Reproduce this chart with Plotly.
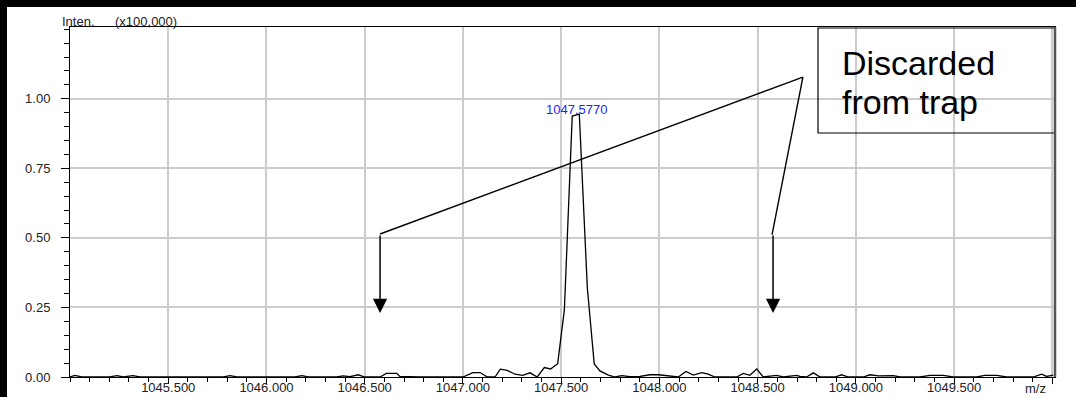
import plotly.graph_objects as go

# ---- data ----
mz = [1045.000, 1045.025, 1045.060, 1045.200, 1045.240, 1045.270, 1045.320, 1045.356,
      1045.780, 1045.814, 1045.850, 1046.145, 1046.180, 1046.213, 1046.357, 1046.390,
      1046.425, 1046.467, 1046.500, 1046.578, 1046.610, 1046.663, 1046.679, 1046.780,
      1047.000, 1047.050, 1047.087, 1047.124, 1047.163, 1047.190, 1047.225, 1047.265,
      1047.304, 1047.341, 1047.378, 1047.414, 1047.446, 1047.482, 1047.516, 1047.556,
      1047.592, 1047.633, 1047.668, 1047.697, 1047.740, 1047.774, 1047.808, 1047.850,
      1047.900, 1047.952, 1047.994, 1048.037, 1048.096, 1048.135, 1048.172, 1048.215,
      1048.248, 1048.282, 1048.393, 1048.427, 1048.460, 1048.495, 1048.528, 1048.596,
      1048.630, 1048.698, 1048.715, 1048.749, 1048.783, 1048.817, 1048.893, 1048.927,
      1048.961, 1049.037, 1049.071, 1049.114, 1049.156, 1049.190, 1049.224, 1049.326,
      1049.377, 1049.444, 1049.495, 1049.614, 1049.656, 1049.716, 1049.767, 1049.902,
      1049.945, 1049.970, 1050.004]
intensity = [0.000, 0.006, 0.000, 0.000, 0.005, 0.000, 0.005, 0.000,
             0.000, 0.005, 0.000, 0.000, 0.005, 0.000, 0.000, 0.004,
             0.001, 0.008, 0.000, 0.000, 0.013, 0.013, 0.002, 0.000,
             0.000, 0.016, 0.016, 0.000, 0.000, 0.028, 0.024, 0.010,
             0.006, 0.015, 0.000, 0.034, 0.029, 0.048, 0.241, 0.938,
             0.945, 0.319, 0.047, 0.022, 0.007, 0.000, 0.005, 0.001,
             0.002, 0.008, 0.008, 0.005, 0.000, 0.020, 0.007, 0.016,
             0.010, 0.000, 0.000, 0.013, 0.006, 0.029, 0.000, 0.006,
             0.000, 0.006, 0.002, 0.000, 0.015, 0.000, 0.000, 0.008,
             0.000, 0.000, 0.008, 0.004, 0.004, 0.005, 0.000, 0.000,
             0.006, 0.006, 0.000, 0.000, 0.006, 0.006, 0.000, 0.000,
             0.010, 0.002, 0.007]

x_tickvals = [1045.5, 1046.0, 1046.5, 1047.0, 1047.5, 1048.0, 1048.5, 1049.0, 1049.5, 1050.0]
x_ticktext = ["1045.500", "1046.000", "1046.500", "1047.000", "1047.500",
              "1048.000", "1048.500", "1049.000", "1049.500", ""]
y_tickvals = [0.0, 0.25, 0.5, 0.75, 1.0]
y_ticktext = ["0.00", "0.25", "0.50", "0.75", "1.00"]

peak_label = "1047.5770"
peak_mz = 1047.577
peak_label_y = 0.962

# callout geometry (data coordinates)
callout_vertex = (1048.730, 1.078)
callout_left = (1046.578, 0.514)
callout_right = (1048.573, 0.512)
arrow_x = [1046.578, 1048.578]
arrow_tail_y = 0.514
arrow_tip_y = 0.23

FONT = "Liberation Sans, Arial, sans-serif"

# pixel geometry helpers
W, H = 1076, 397
ML, MR, MT, MB = 70, 21, 27, 20
PW, PH = W - ML - MR, H - MT - MB


def px(xp):
    return (xp - ML) / PW


def py(yp):
    return (H - MB - yp) / PH


fig = go.Figure()
fig.add_trace(go.Scatter(x=mz, y=intensity, mode="lines",
                         line=dict(color="black", width=1.3),
                         hoverinfo="skip", showlegend=False))

shapes = []
# black frame around the picture (top and left strips)
shapes.append(dict(type="rect", xref="paper", yref="paper", layer="above",
                   x0=px(0), x1=px(W), y0=py(7), y1=py(0),
                   fillcolor="black", line=dict(width=0)))
shapes.append(dict(type="rect", xref="paper", yref="paper", layer="above",
                   x0=px(0), x1=px(7), y0=py(H), y1=py(0),
                   fillcolor="black", line=dict(width=0)))
# callout lines
for corner in (callout_left, callout_right):
    shapes.append(dict(type="line", xref="x", yref="y",
                       x0=corner[0], y0=corner[1],
                       x1=callout_vertex[0], y1=callout_vertex[1],
                       line=dict(color="black", width=1.4)))
# text box
shapes.append(dict(type="rect", xref="paper", yref="paper",
                   x0=px(818), x1=px(1055), y0=py(133), y1=py(28),
                   line=dict(color="black", width=1.2), fillcolor="rgba(0,0,0,0)"))
# darker right border of plot area
shapes.append(dict(type="line", xref="paper", yref="paper",
                   x0=1.0, x1=1.0, y0=0, y1=1,
                   line=dict(color="#555555", width=2.5)))

annotations = []
for ax_x in arrow_x:
    annotations.append(dict(x=ax_x, y=arrow_tip_y, ax=ax_x, ay=arrow_tail_y,
                            xref="x", yref="y", axref="x", ayref="y",
                            showarrow=True, arrowhead=2, arrowsize=1.9,
                            arrowwidth=1.5, arrowcolor="black", text=""))
annotations.append(dict(x=peak_mz, y=peak_label_y, xref="x", yref="y",
                        text=peak_label, showarrow=False,
                        font=dict(family=FONT, size=13, color="#2323ff"),
                        xanchor="center", yanchor="middle"))
annotations.append(dict(x=px(840), y=py(63), xref="paper", yref="paper",
                        text="Discarded", showarrow=False,
                        font=dict(family=FONT, size=34, color="black"),
                        xanchor="left", yanchor="middle"))
annotations.append(dict(x=px(840), y=py(102), xref="paper", yref="paper",
                        text="from trap", showarrow=False,
                        font=dict(family=FONT, size=34, color="black"),
                        xanchor="left", yanchor="middle"))
annotations.append(dict(x=px(60), y=1.0, xref="paper", yref="paper",
                        text="Inten.", showarrow=False,
                        font=dict(family=FONT, size=13, color="#222222"),
                        xanchor="left", yanchor="bottom", yshift=-4))
annotations.append(dict(x=px(113), y=1.0, xref="paper", yref="paper",
                        text="(x100,000)", showarrow=False,
                        font=dict(family=FONT, size=13, color="#222222"),
                        xanchor="left", yanchor="bottom", yshift=-4))
annotations.append(dict(x=px(1048), y=py(388), xref="paper", yref="paper",
                        text="m/z", showarrow=False,
                        font=dict(family=FONT, size=13, color="#222222"),
                        xanchor="right", yanchor="middle"))

fig.update_layout(
    width=W, height=H,
    margin=dict(l=ML, r=MR, t=MT, b=MB, pad=0, autoexpand=False),
    paper_bgcolor="white", plot_bgcolor="white",
    shapes=shapes, annotations=annotations,
    showlegend=False,
    font=dict(family=FONT, size=13, color="#222222"),
)
fig.update_xaxes(
    range=[1045.0, 1050.013], tickmode="array",
    tickvals=x_tickvals, ticktext=x_ticktext, automargin=False,
    ticks="outside", ticklen=6, tickwidth=1, tickcolor="black",
    showgrid=True, gridcolor="#cccccc", gridwidth=1.5,
    showline=True, linecolor="black", linewidth=1, mirror=True,
    zeroline=False, tickfont=dict(family=FONT, size=13, color="#222222"),
    ticklabelstandoff=-8,
    minor=dict(tick0=1045.0, dtick=0.1, ticks="outside", ticklen=4,
               tickcolor="black", tickwidth=1, showgrid=False),
)
fig.update_yaxes(
    range=[0, 1.258], tickmode="array",
    tickvals=y_tickvals, ticktext=y_ticktext, automargin=False,
    ticks="outside", ticklen=8, tickwidth=1, tickcolor="black",
    showgrid=True, gridcolor="#cccccc", gridwidth=1.5,
    showline=True, linecolor="black", linewidth=1, mirror=True,
    zeroline=False, tickfont=dict(family=FONT, size=13, color="#222222"),
    ticklabelstandoff=8,
    minor=dict(tick0=0, dtick=0.05, ticks="outside", ticklen=5,
               tickcolor="black", tickwidth=1, showgrid=False),
)

fig.write_html("out.html")
